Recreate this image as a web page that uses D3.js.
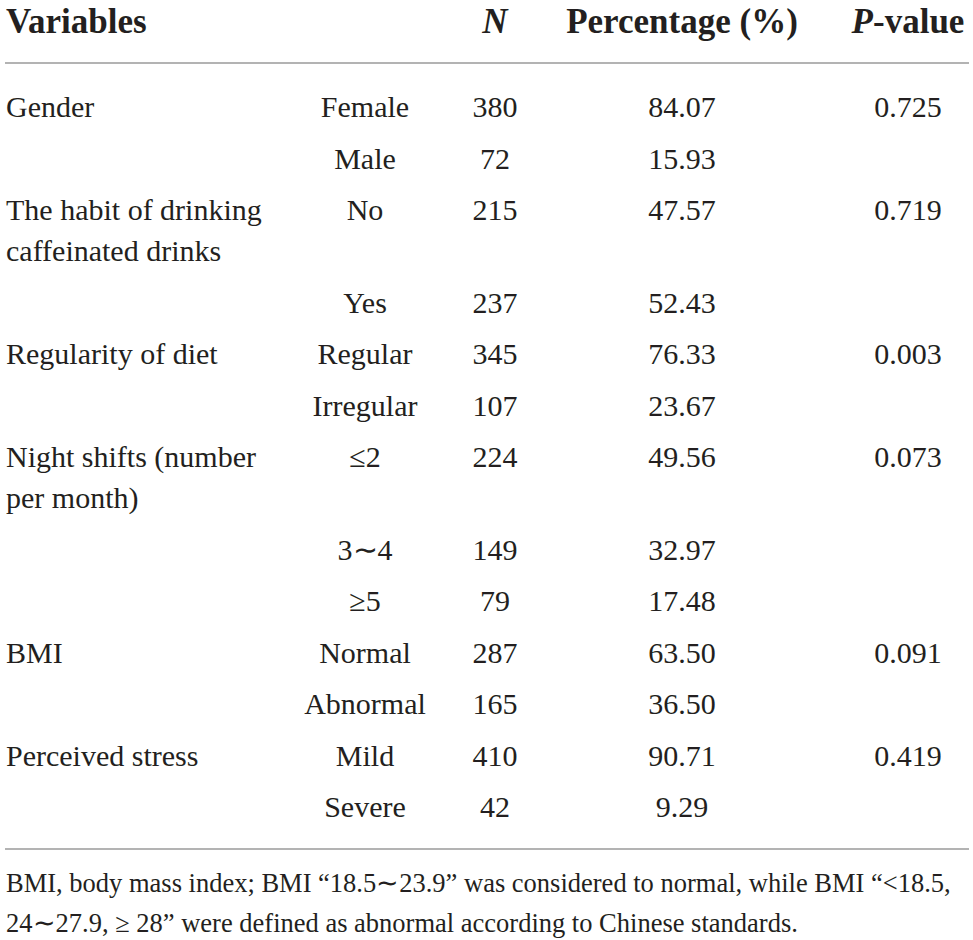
<!DOCTYPE html>
<html>
<head>
<meta charset="utf-8">
<script src="https://cdn.jsdelivr.net/npm/d3@7"></script>
<style>
  body { margin: 0; background: #fff; }
  svg text { font-family: "Liberation Serif", "Times New Roman", serif; fill: #231f20; }
</style>
</head>
<body>
<div class="d3-container"></div>
<script>
// table content
const headers = ["Variables", "N", "Percentage (%)", "P-value"];
const variables = [
  ["Gender"],
  ["The habit of drinking", "caffeinated drinks"],
  ["Regularity of diet"],
  ["Night shifts (number", "per month)"],
  ["BMI"],
  ["Perceived stress"]
];
const groupSizes = [2, 2, 2, 3, 2, 2];
const pValues = ["0.725", "0.719", "0.003", "0.073", "0.091", "0.419"];
const levels = ["Female", "Male", "No", "Yes", "Regular", "Irregular", "\u22642", "3\u223C4", "\u22655", "Normal", "Abnormal", "Mild", "Severe"];
const counts = [380, 72, 215, 237, 345, 107, 224, 149, 79, 287, 165, 410, 42];
const percents = [84.07, 15.93, 47.57, 52.43, 76.33, 23.67, 49.56, 32.97, 17.48, 63.50, 36.50, 90.71, 9.29];
const footnote = [
  "BMI, body mass index; BMI \u201C18.5\u223C23.9\u201D was considered to normal, while BMI \u201C<18.5,",
  "24\u223C27.9, \u2265 28\u201D were defined as abnormal according to Chinese standards."
];

const width = 973;
const height = 940;
const rowStep = 51.5;   // one row of the body
const wrapStep = 41;    // extra line inside a wrapped label
const firstBaseline = 117;
const col = {variable: 6, level: 365, n: 495, pct: 682, p: 908};

const svg = d3.select(".d3-container")
  .append("svg")
  .attr("width", width)
  .attr("height", height)
  .attr("viewBox", [0, 0, width, height]);

// build rows: each level gets a slot, first row of a group can carry a wrapped label
const rows = [];
let k = 0;
variables.forEach((v, g) => {
  for (let j = 0; j < groupSizes[g]; j++) {
    rows.push({
      group: g,
      first: j === 0,
      extra: j === 0 ? v.length - 1 : 0,
      level: levels[k],
      n: counts[k],
      pct: percents[k]
    });
    k++;
  }
});

// baseline of each row from its slot index and wrapped lines above it
let offset = 0;
rows.forEach((r, i) => {
  r.slot = i + offset;
  offset += r.extra * wrapStep / rowStep;
});
const y = d3.scaleLinear()
  .domain([0, 1])
  .range([firstBaseline, firstBaseline + rowStep]);

const fmt = d3.format(".2f");

// header
const head = svg.append("g")
  .attr("font-size", 35)
  .attr("font-weight", "bold");

head.append("text")
  .attr("x", col.variable)
  .attr("y", 33)
  .text(headers[0]);

head.append("text")
  .attr("x", col.n)
  .attr("y", 33)
  .attr("text-anchor", "middle")
  .attr("font-style", "italic")
  .text(headers[1]);

head.append("text")
  .attr("x", col.pct)
  .attr("y", 33)
  .attr("text-anchor", "middle")
  .text(headers[2]);

const pHead = head.append("text")
  .attr("x", col.p)
  .attr("y", 33)
  .attr("text-anchor", "middle");
pHead.append("tspan").attr("font-style", "italic").text(headers[3].slice(0, 1));
pHead.append("tspan").text(headers[3].slice(1));

// rules
svg.append("g")
  .attr("stroke", "#9a9a9a")
  .attr("stroke-width", 1.5)
  .selectAll("line")
  .data([63, 849])
  .join("line")
  .attr("x1", 5)
  .attr("x2", 969)
  .attr("y1", d => d)
  .attr("y2", d => d);

// body
const body = svg.append("g").attr("font-size", 30);

const firsts = rows.filter(r => r.first);

body.selectAll("text.variable")
  .data(firsts)
  .join("text")
  .attr("class", "variable")
  .attr("x", col.variable)
  .attr("y", d => y(d.slot))
  .selectAll("tspan")
  .data(d => variables[d.group])
  .join("tspan")
  .attr("x", col.variable)
  .attr("dy", (d, i) => i === 0 ? 0 : wrapStep)
  .text(d => d);

body.selectAll("text.level")
  .data(rows)
  .join("text")
  .attr("class", "level")
  .attr("x", col.level)
  .attr("y", d => y(d.slot))
  .attr("text-anchor", "middle")
  .text(d => d.level);

body.selectAll("text.n")
  .data(rows)
  .join("text")
  .attr("class", "n")
  .attr("x", col.n)
  .attr("y", d => y(d.slot))
  .attr("text-anchor", "middle")
  .text(d => d.n);

body.selectAll("text.pct")
  .data(rows)
  .join("text")
  .attr("class", "pct")
  .attr("x", col.pct)
  .attr("y", d => y(d.slot))
  .attr("text-anchor", "middle")
  .text(d => fmt(d.pct));

body.selectAll("text.p")
  .data(firsts)
  .join("text")
  .attr("class", "p")
  .attr("x", col.p)
  .attr("y", d => y(d.slot))
  .attr("text-anchor", "middle")
  .text(d => pValues[d.group]);

// footnote
svg.append("g")
  .attr("font-size", 26.5)
  .selectAll("text")
  .data(footnote)
  .join("text")
  .attr("x", 6)
  .attr("y", (d, i) => 892 + i * 40)
  .text(d => d);
</script>
</body>
</html>
